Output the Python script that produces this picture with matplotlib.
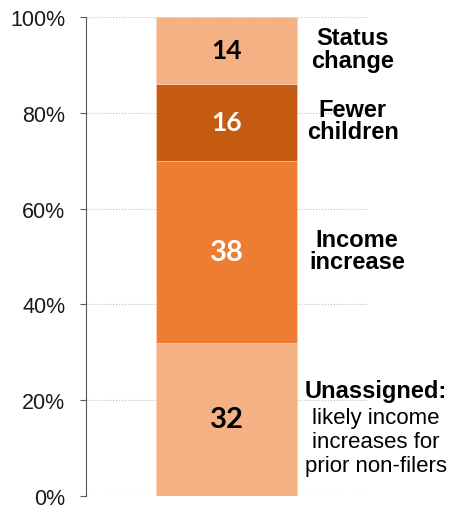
import numpy as np
import matplotlib.pyplot as plt

# 各部分占比（%），自下而上
values = [32, 38, 16, 14]
colors = ['#F4B183', '#ED7D31', '#C55A11', '#F4B183']
num_colors = ['black', 'white', 'white', 'black']
num_sizes = [21, 21, 19, 19]
labels = [
    ['Unassigned:', 'likely income', 'increases for', 'prior non-filers'],
    ['Income', 'increase'],
    ['Fewer', 'children'],
    ['Status', 'change'],
]
label_x = [1.064, 0.93, 0.90, 0.90]
yticks = [0, 20, 40, 60, 80, 100]

fig = plt.figure(figsize=(4.53, 5.10), dpi=100)
ax = fig.add_axes([0.19, 0.0255, 0.62, 0.9393])

bottoms = np.concatenate([[0], np.cumsum(values)[:-1]])
ax.bar([0] * len(values), values, bottom=bottoms, width=1.0, color=colors,
       edgecolor='#f7d3b8', linewidth=0.4, zorder=2)

for i, v in enumerate(values):
    yc = bottoms[i] + v / 2
    ax.text(0, yc, str(v), ha='center', va='center', fontsize=num_sizes[i],
            fontweight='bold', color=num_colors[i], family=['Lato', 'DejaVu Sans'])
    lines = labels[i]
    if len(lines) == 2:
        ax.text(label_x[i], yc + 0.3, '\n'.join(lines), ha='center', va='center',
                fontsize=17, fontweight='bold', linespacing=0.95,
                family=['Liberation Sans'], clip_on=False)
    else:
        ax.text(label_x[i], 20.7, lines[0], ha='center', va='baseline',
                fontsize=17, fontweight='bold', family=['Liberation Sans'],
                clip_on=False)
        for j, ln in enumerate(lines[1:]):
            ax.text(label_x[i], 15.2 - j * 5.0, ln, ha='center', va='baseline',
                    fontsize=16, family=['Liberation Sans'], clip_on=False)

ax.set_xlim(-1, 1)
ax.set_ylim(0, 100)
ax.set_yticks(yticks)
ax.set_yticklabels([f'{t}%' for t in yticks], fontsize=15.5,
                   family=['Liberation Sans'], color='#1a1a1a')
ax.set_xticks([])
ax.tick_params(axis='y', length=4, width=0.8, color='#595959', pad=11)
ax.yaxis.grid(True, linestyle=':', color='#bfbfbf', linewidth=0.8)
ax.set_axisbelow(True)
for s in ['top', 'right', 'bottom']:
    ax.spines[s].set_visible(False)
ax.spines['left'].set_color('#595959')
ax.spines['left'].set_linewidth(0.8)

fig.savefig('out.png', dpi=100)
